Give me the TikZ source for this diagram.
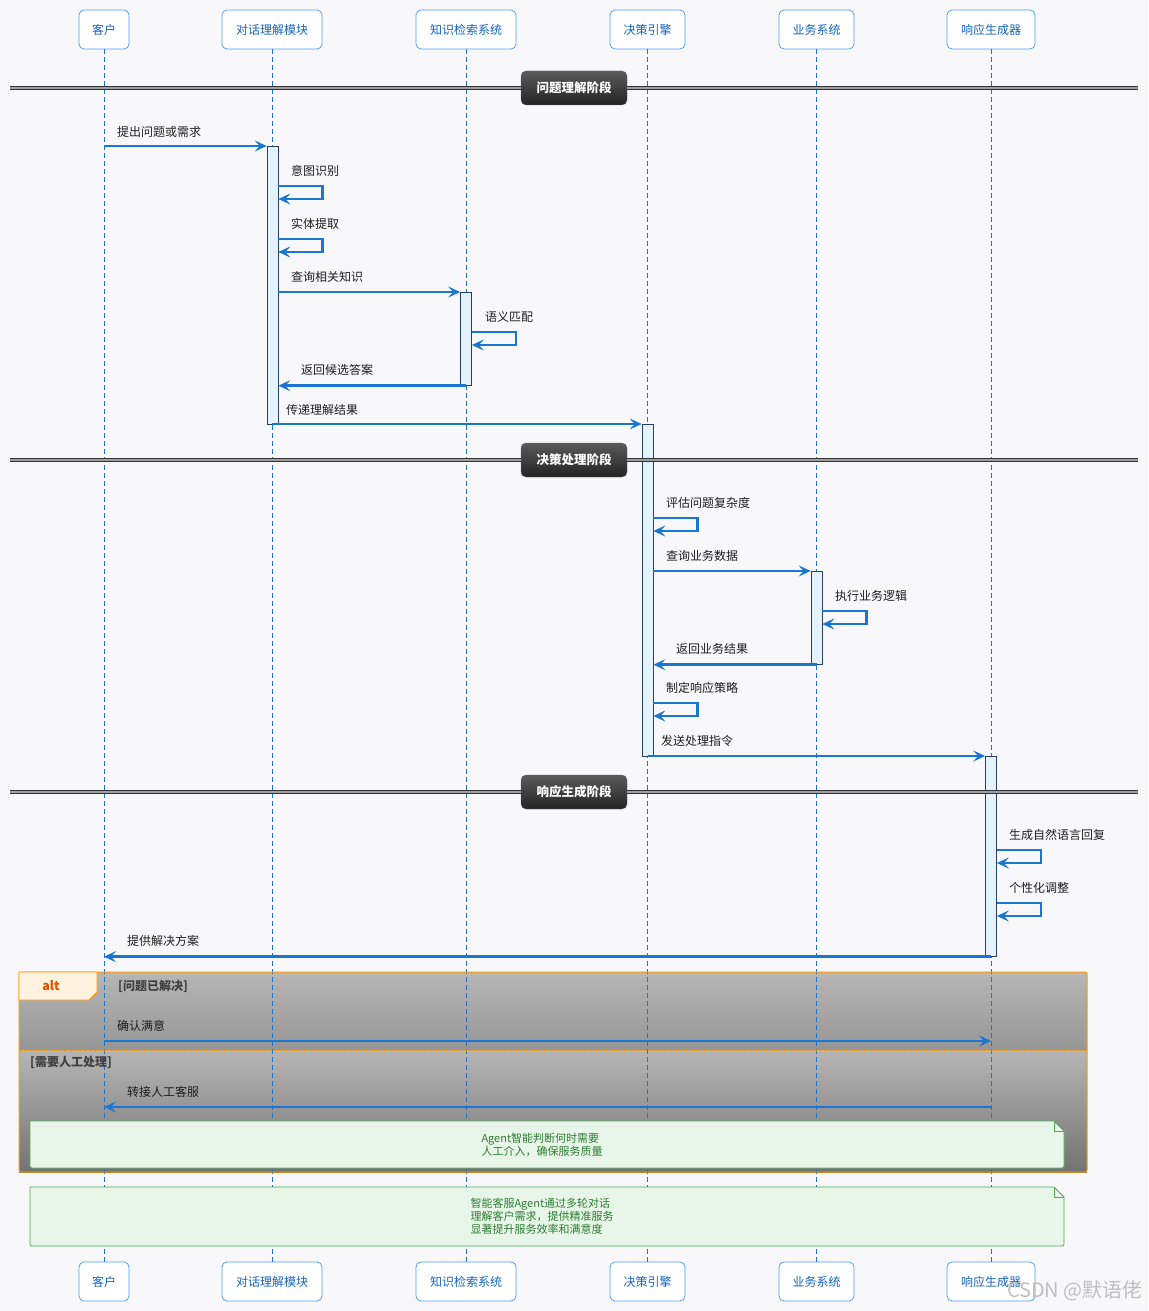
\documentclass[tikz,border=0pt]{standalone}
\usepackage{fontspec}
\setmainfont{Noto Sans CJK SC}
\usetikzlibrary{arrows.meta,calc}
\definecolor{bg}{RGB}{248,248,250}
\definecolor{msgblue}{RGB}{25,118,210}
\definecolor{partborder}{RGB}{80,160,240}
\definecolor{parttext}{RGB}{21,101,192}
\definecolor{actfill}{RGB}{227,242,253}
\definecolor{actdraw}{RGB}{35,65,105}
\definecolor{altorange}{RGB}{255,152,0}
\definecolor{alttag}{RGB}{255,243,224}
\definecolor{alttext}{RGB}{230,81,0}
\definecolor{notefill}{RGB}{232,245,233}
\definecolor{notedraw}{RGB}{76,175,80}
\definecolor{notetext}{RGB}{46,125,50}
\definecolor{phtop}{RGB}{90,90,90}
\definecolor{phbot}{RGB}{35,35,35}
\definecolor{altt}{RGB}{182,182,182}
\definecolor{altbA}{RGB}{150,150,150}
\definecolor{altbB}{RGB}{115,115,115}
\definecolor{lbltext}{RGB}{30,30,30}
\begin{document}
\begin{tikzpicture}[x=1pt,y=-1pt,
  part/.style={draw=partborder, fill=white, rounded corners=5pt, text=parttext,
    minimum height=39pt, inner sep=0pt, line width=0.8pt, font=\fontsize{12}{14}\selectfont},
  lifeline/.style={draw=msgblue, dash pattern=on 5pt off 3pt, line width=0.9pt},
  act/.style={draw=actdraw, fill=actfill, minimum width=11pt, inner sep=0pt, line width=0.7pt, anchor=north},
  msg/.style={draw=msgblue, line width=2.6pt, -{Stealth[length=12pt,width=11pt,inset=5pt]}},
  lbl/.style={font=\fontsize{12}{14}\selectfont, text=lbltext, anchor=west, inner sep=0pt},
  phase/.style={rounded corners=5pt, top color=phtop, bottom color=phbot, draw=black!60,
    text=white, font=\bfseries\fontsize{12.5}{14}\selectfont, minimum width=106pt, minimum height=34pt, inner sep=0pt},
  divider/.style={draw=black!80, double=gray!75, double distance=1.2pt, line width=1.2pt},
  guard/.style={font=\bfseries\fontsize{12}{14}\selectfont, text=black!75, anchor=west, inner sep=0pt},
  notebox/.style={draw=notedraw, fill=notefill, line width=0.8pt},
  notetxt/.style={font=\fontsize{11}{13}\selectfont, text=notetext, align=left, inner sep=0pt}
]
\fill[bg] (0,0) rectangle (1148,1311);
\useasboundingbox (0,0) rectangle (1148,1311);

% participants
\node[part, minimum width=50pt]  (pA) at (104,29.5) {客户};
\node[part, minimum width=100pt] (pB) at (272,29.5) {对话理解模块};
\node[part, minimum width=100pt] (pC) at (466,29.5) {知识检索系统};
\node[part, minimum width=75pt]  (pD) at (647.5,29.5) {决策引擎};
\node[part, minimum width=75pt]  (pE) at (816.5,29.5) {业务系统};
\node[part, minimum width=88pt]  (pF) at (991,29.5) {响应生成器};
\node[part, minimum width=50pt]  (qA) at (104,1281.5) {客户};
\node[part, minimum width=100pt] (qB) at (272,1281.5) {对话理解模块};
\node[part, minimum width=100pt] (qC) at (466,1281.5) {知识检索系统};
\node[part, minimum width=75pt]  (qD) at (647.5,1281.5) {决策引擎};
\node[part, minimum width=75pt]  (qE) at (816.5,1281.5) {业务系统};
\node[part, minimum width=88pt]  (qF) at (991,1281.5) {响应生成器};

% alt block background
\shade[top color=altt, bottom color=altbA] (19,972) rectangle (1087,1050);
\shade[top color=altt, bottom color=altbB] (19,1050) rectangle (1087,1172);

% lifelines
\draw[lifeline] (pA.south) -- (qA.north);
\draw[lifeline] (pB.south) -- (qB.north);
\draw[lifeline] (pC.south) -- (qC.north);
\draw[lifeline] (pD.south) -- (qD.north);
\draw[lifeline] (pE.south) -- (qE.north);
\draw[lifeline] (pF.south) -- (qF.north);

% alt frame
\draw[altorange, line width=1pt, rounded corners=2pt] (19,972) rectangle (1087,1172);
\draw[altorange, line width=0.8pt, dash pattern=on 3pt off 2pt] (19,1050) -- (1087,1050);
\draw[altorange, fill=alttag, line width=0.8pt] (19,972) -- (97,972) -- (97,992) -- (89,1000) -- (19,1000) -- cycle;
\node[font=\bfseries\fontsize{12.5}{14}\selectfont, text=alttext] (altlbl) at (51,986) {alt};
\node[guard] (g1) at (118,986) {[问题已解决]};
\node[guard] (g2) at (30,1062) {[需要人工处理]};

% activation bars
\node[act, minimum height=278pt] (actB) at (272.5,146) {};
\node[act, minimum height=93pt]  (actC) at (466,292) {};
\node[act, minimum height=332pt] (actD) at (647.5,424) {};
\node[act, minimum height=93pt]  (actE) at (816.5,571) {};
\node[act, minimum height=200pt] (actF) at (991,756) {};

% phase dividers
\node[phase] (ph1) at (574,88) {问题理解阶段};
\coordinate (d1l) at (10,88); \coordinate (d1r) at (1138,88);
\draw[divider] (d1l) -- (ph1.west); \draw[divider] (ph1.east) -- (d1r);
\node[phase] (ph2) at (574,460) {决策处理阶段};
\coordinate (d2l) at (10,460); \coordinate (d2r) at (1138,460);
\draw[divider] (d2l) -- (ph2.west); \draw[divider] (ph2.east) -- (d2r);
\node[phase] (ph3) at (574,792) {响应生成阶段};
\coordinate (d3l) at (10,792); \coordinate (d3r) at (1138,792);
\draw[divider] (d3l) -- (ph3.west); \draw[divider] (ph3.east) -- (d3r);

% messages
\node[lbl] (l1) at (117,132) {提出问题或需求};
\draw[msg] (pA.south |- actB.north) -- (actB.north west);

\node[lbl] (l2) at (291,171) {意图识别};
\draw[msg] ($(actB.north east)+(0,40)$) -- ++(44,0) -- ++(0,13) -- ++(-44,0);
\node[lbl] (l3) at (291,224) {实体提取};
\draw[msg] ($(actB.north east)+(0,93)$) -- ++(44,0) -- ++(0,13) -- ++(-44,0);

\node[lbl] (l4) at (291,277) {查询相关知识};
\draw[msg] (actB.east |- actC.north) -- (actC.north west);
\node[lbl] (l5) at (485,317) {语义匹配};
\draw[msg] ($(actC.north east)+(0,40)$) -- ++(44,0) -- ++(0,13) -- ++(-44,0);
\node[lbl] (l6) at (301,370) {返回候选答案};
\draw[msg] (pC.south |- actC.south) -- (actB.east |- actC.south);

\node[lbl] (l7) at (286,410) {传递理解结果};
\draw[msg] (pB.south |- actD.north) -- (actD.north west);

\node[lbl] (l8) at (666,503) {评估问题复杂度};
\draw[msg] ($(actD.north east)+(0,94)$) -- ++(44,0) -- ++(0,13) -- ++(-44,0);
\node[lbl] (l9) at (666,556) {查询业务数据};
\draw[msg] (actD.east |- actE.north) -- (actE.north west);
\node[lbl] (l10) at (835,596) {执行业务逻辑};
\draw[msg] ($(actE.north east)+(0,40)$) -- ++(44,0) -- ++(0,13) -- ++(-44,0);
\node[lbl] (l11) at (676,649) {返回业务结果};
\draw[msg] (pE.south |- actE.south) -- (actD.east |- actE.south);
\node[lbl] (l12) at (666,688) {制定响应策略};
\draw[msg] ($(actD.north east)+(0,279)$) -- ++(44,0) -- ++(0,13) -- ++(-44,0);
\node[lbl] (l13) at (661,741) {发送处理指令};
\draw[msg] (pD.south |- actF.north) -- (actF.north west);

\node[lbl] (l14) at (1009,835) {生成自然语言回复};
\draw[msg] ($(actF.north east)+(0,94)$) -- ++(44,0) -- ++(0,13) -- ++(-44,0);
\node[lbl] (l15) at (1009,888) {个性化调整};
\draw[msg] ($(actF.north east)+(0,147)$) -- ++(44,0) -- ++(0,13) -- ++(-44,0);
\node[lbl] (l16) at (127,941) {提供解决方案};
\draw[msg] (pF.south |- actF.south) -- (pA.south |- actF.south);

\coordinate (r1) at (0,1041);
\coordinate (r2) at (0,1107);
\node[lbl] (l17) at (117,1026) {确认满意};
\draw[msg] (pA.south |- r1) -- (pF.south |- r1);
\node[lbl] (l18) at (127,1092) {转接人工客服};
\draw[msg] (pF.south |- r2) -- (pA.south |- r2);

% notes
\filldraw[notebox] (30,1121) -- (1054,1121) -- (1064,1131) -- (1064,1166) arc[start angle=0,end angle=90,radius=2] -- (32,1168) arc[start angle=90,end angle=180,radius=2] -- cycle;
\draw[notedraw, line width=0.6pt] (1054,1121) -- (1054,1131) -- (1064,1131);
\node[notetxt] (n1) at (542,1144.5) {Agent智能判断何时需要\\人工介入，确保服务质量};

\filldraw[notebox] (30,1187) -- (1054,1187) -- (1064,1197) -- (1064,1244) arc[start angle=0,end angle=90,radius=2] -- (32,1246) arc[start angle=90,end angle=180,radius=2] -- cycle;
\draw[notedraw, line width=0.6pt] (1054,1187) -- (1054,1197) -- (1064,1197);
\node[notetxt] (n2) at (542,1216.5) {智能客服Agent通过多轮对话\\理解客户需求，提供精准服务\\显著提升服务效率和满意度};

% watermark
\node[font=\fontsize{20}{22}\selectfont, text=gray!50, anchor=east, inner sep=0pt] (wm) at (1143,1291) {CSDN @默语佬};
\end{tikzpicture}
\end{document}
